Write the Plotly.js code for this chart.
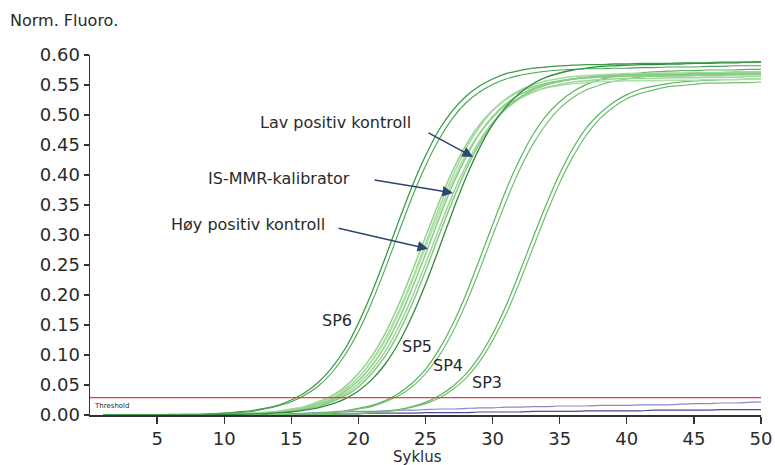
<!DOCTYPE html>
<html>
<head>
<meta charset="utf-8">
<script src="https://cdn.plot.ly/plotly-3.0.1.min.js"></script>
<style>html,body{margin:0;padding:0;background:#fff;}#chart{width:775px;height:465px;}</style>
</head>
<body>
<div id="chart"></div>
<script>
const cycles = [1,2,3,4,5,6,7,8,9,10,11,12,13,14,15,16,17,18,19,20,21,22,23,24,25,26,27,28,29,30,31,32,33,34,35,36,37,38,39,40,41,42,43,44,45,46,47,48,49,50];
const xRange = [0, 50];
const thresholdValue = [0.029];
const xTicks = [5,10,15,20,25,30,35,40,45,50];
const yTicks = [0,0.05,0.10,0.15,0.20,0.25,0.30,0.35,0.40,0.45,0.50,0.55,0.60];

const sp6a = [0.000,0.000,0.000,0.000,0.000,0.001,0.001,0.001,0.002,0.003,
 0.005,0.007,0.011,0.016,0.025,0.037,0.054,0.078,0.110,0.153,
 0.204,0.262,0.323,0.381,0.432,0.475,0.507,0.531,0.548,0.560,
 0.569,0.574,0.578,0.580,0.582,0.583,0.584,0.584,0.585,0.585,
 0.586,0.586,0.586,0.587,0.587,0.587,0.588,0.588,0.588,0.589];
const sp6b = [0.000,0.000,0.000,0.000,0.000,0.000,0.001,0.001,0.002,0.003,
 0.004,0.006,0.010,0.015,0.022,0.033,0.048,0.070,0.100,0.139,
 0.188,0.244,0.304,0.363,0.415,0.459,0.494,0.520,0.538,0.551,
 0.560,0.566,0.570,0.573,0.575,0.576,0.577,0.577,0.578,0.578,
 0.579,0.579,0.580,0.580,0.580,0.581,0.581,0.582,0.582,0.582];
const hoyA = [0,0,0,0,0,0,0,0,0.001,0.001,
 0.002,0.003,0.004,0.006,0.010,0.014,0.022,0.032,0.047,0.069,
 0.098,0.136,0.184,0.239,0.297,0.354,0.406,0.449,0.483,0.508,
 0.526,0.539,0.547,0.553,0.557,0.560,0.562,0.563,0.564,0.564,
 0.564,0.565,0.565,0.565,0.566,0.566,0.566,0.567,0.567,0.567];
const hoyB = [0,0,0,0,0,0,0,0,0.001,0.001,
 0.002,0.003,0.004,0.006,0.009,0.013,0.020,0.029,0.043,0.063,
 0.091,0.127,0.173,0.226,0.285,0.344,0.397,0.443,0.479,0.507,
 0.527,0.541,0.550,0.557,0.561,0.564,0.566,0.567,0.568,0.569,
 0.569,0.570,0.570,0.570,0.571,0.571,0.571,0.572,0.572,0.572];
const isA = [0,0,0,0,0,0,0,0,0.001,0.001,
 0.002,0.002,0.004,0.006,0.009,0.013,0.019,0.029,0.042,0.062,
 0.089,0.124,0.169,0.222,0.279,0.336,0.389,0.434,0.469,0.496,
 0.516,0.529,0.539,0.545,0.549,0.552,0.554,0.556,0.556,0.557,
 0.557,0.557,0.558,0.558,0.558,0.559,0.559,0.559,0.560,0.560];
const isB = [0,0,0,0,0,0,0,0,0.001,0.001,
 0.001,0.002,0.003,0.005,0.008,0.012,0.018,0.026,0.039,0.057,
 0.082,0.116,0.159,0.211,0.268,0.327,0.382,0.429,0.468,0.497,
 0.519,0.534,0.544,0.552,0.556,0.560,0.562,0.563,0.564,0.565,
 0.565,0.565,0.566,0.566,0.566,0.567,0.567,0.567,0.568,0.568];
const lavA = [0,0,0,0,0,0,0,0,0,0.001,
 0.001,0.002,0.003,0.005,0.007,0.011,0.016,0.024,0.035,0.052,
 0.075,0.106,0.147,0.196,0.252,0.310,0.366,0.415,0.456,0.487,
 0.510,0.527,0.538,0.546,0.551,0.555,0.557,0.559,0.560,0.561,
 0.561,0.561,0.562,0.562,0.562,0.563,0.563,0.563,0.564,0.564];
const lavB = [0,0,0,0,0,0,0,0,0,0.001,
 0.001,0.002,0.003,0.004,0.006,0.010,0.014,0.022,0.032,0.047,
 0.069,0.098,0.137,0.185,0.240,0.299,0.356,0.408,0.451,0.485,
 0.511,0.529,0.542,0.550,0.556,0.560,0.563,0.565,0.566,0.567,
 0.567,0.568,0.568,0.568,0.569,0.569,0.569,0.570,0.570,0.570];
const sp5 = [0,0,0,0,0,0,0,0,0,0.001,
 0.001,0.002,0.002,0.004,0.005,0.008,0.012,0.018,0.027,0.040,
 0.059,0.085,0.120,0.165,0.218,0.277,0.338,0.395,0.444,0.484,
 0.514,0.536,0.552,0.563,0.570,0.575,0.578,0.581,0.582,0.583,
 0.584,0.584,0.585,0.585,0.586,0.586,0.587,0.587,0.588,0.588];
const sp4a = [0,0,0,0,0,0,0,0,0,0,
 0,0,0.001,0.001,0.001,0.002,0.003,0.005,0.007,0.011,
 0.016,0.024,0.036,0.053,0.076,0.109,0.150,0.200,0.258,0.317,
 0.375,0.425,0.467,0.499,0.522,0.539,0.551,0.559,0.564,0.568,
 0.570,0.572,0.573,0.574,0.574,0.575,0.575,0.575,0.576,0.576];
const sp4b = [0,0,0,0,0,0,0,0,0,0,
 0,0,0.001,0.001,0.001,0.002,0.003,0.004,0.006,0.010,
 0.014,0.022,0.032,0.047,0.069,0.098,0.137,0.185,0.240,0.299,
 0.356,0.408,0.451,0.485,0.511,0.529,0.542,0.550,0.556,0.560,
 0.563,0.565,0.566,0.567,0.567,0.567,0.568,0.568,0.568,0.569];
const sp3a = [0,0,0,0,0,0,0,0,0,0,
 0,0,0,0,0,0.001,0.001,0.001,0.002,0.003,
 0.004,0.006,0.009,0.014,0.021,0.032,0.047,0.068,0.097,0.135,
 0.182,0.237,0.295,0.351,0.402,0.445,0.479,0.503,0.521,0.534,
 0.543,0.548,0.552,0.555,0.557,0.558,0.559,0.559,0.560,0.560];
const sp3b = [0,0,0,0,0,0,0,0,0,0,
 0,0,0,0,0,0,0.001,0.001,0.002,0.002,
 0.004,0.006,0.008,0.013,0.019,0.028,0.042,0.061,0.088,0.124,
 0.168,0.221,0.278,0.335,0.387,0.431,0.467,0.494,0.513,0.527,
 0.536,0.542,0.547,0.549,0.551,0.553,0.553,0.554,0.554,0.555];
const ntc1 = [0,0,0,0,0,0,0,0,0,0,
 0,0,0,0.001,0.002,0.003,0.004,0.005,0.005,0.006,
 0.006,0.007,0.008,0.008,0.009,0.010,0.010,0.011,0.012,0.012,
 0.013,0.013,0.014,0.014,0.015,0.015,0.015,0.016,0.016,0.016,
 0.017,0.017,0.017,0.018,0.019,0.019,0.020,0.020,0.021,0.022];
const ntc2 = [0,0,0,0,0,0,0,0,0,0,
 0,0,0,0,0.001,0.001,0.001,0.002,0.002,0.002,
 0.003,0.003,0.003,0.003,0.004,0.004,0.004,0.004,0.005,0.005,
 0.005,0.005,0.006,0.006,0.006,0.006,0.007,0.007,0.007,0.007,
 0.007,0.008,0.008,0.008,0.008,0.008,0.009,0.009,0.009,0.009];

const FONT = '"DejaVu Sans", "Noto Sans", sans-serif';
const TXT = '#2a2a2a';

function curve(y, color, width) {
  return {x: cycles, y: y, type: 'scatter', mode: 'lines',
    line: {color: color, width: width || 1.2, shape: 'spline', smoothing: 0.6},
    hoverinfo: 'skip'};
}

const traces = [
  curve(ntc2, '#4d4d95', 1.2),
  curve(ntc1, '#8a8ac6', 1.2),
  curve(sp3a, '#5db35e'), curve(sp3b, '#72be72'),
  curve(sp4a, '#5db35e'), curve(sp4b, '#72be72'),
  curve(hoyA, '#92d28c', 1.5), curve(hoyB, '#a4da9e', 1.5),
  curve(isA, '#aee0a8', 1.5), curve(isB, '#8ccc86', 1.5),
  curve(lavA, '#9dd697', 1.5), curve(lavB, '#86c980', 1.5),
  curve(sp5, '#2f8c3d', 1.3),
  curve(sp6a, '#3a9a46', 1.3), curve(sp6b, '#4aa554', 1.1),
  {x: xRange, y: [thresholdValue[0], thresholdValue[0]], type: 'scatter', mode: 'lines',
   line: {color: '#f23a3a', width: 1.4}, hoverinfo: 'skip'}
];

const annotations = [
  {xref: 'paper', yref: 'paper', x: -0.122, y: 1.097, xanchor: 'left', yanchor: 'middle',
   text: 'Norm. Fluoro.', showarrow: false, font: {family: FONT, size: 16, color: TXT}},
  {xref: 'paper', yref: 'paper', x: 0.488, y: -0.1167, xanchor: 'center', yanchor: 'middle',
   text: 'Syklus', showarrow: false, font: {family: FONT, size: 15, color: TXT}},
  {x: 0.15, y: thresholdValue[0], xanchor: 'left', yanchor: 'top', yshift: -2,
   text: 'Threshold', showarrow: false, font: {family: FONT, size: 7, color: TXT}},
  {x: 24.07, y: 0.487, xanchor: 'right', yanchor: 'middle', text: 'Lav positiv kontroll',
   showarrow: false, font: {family: FONT, size: 16, color: TXT}},
  {x: 19.52, y: 0.395, xanchor: 'right', yanchor: 'middle', text: 'IS-MMR-kalibrator',
   showarrow: false, font: {family: FONT, size: 16, color: TXT}},
  {x: 17.66, y: 0.317, xanchor: 'right', yanchor: 'middle', text: 'Høy positiv kontroll',
   showarrow: false, font: {family: FONT, size: 16, color: TXT}},
  {x: 28.54, y: 0.430, ax: 25.11, ay: 0.4717, axref: 'x', ayref: 'y', text: '', showarrow: true,
   arrowhead: 2, arrowsize: 1.4, arrowwidth: 1.5, arrowcolor: '#2c4670'},
  {x: 27.05, y: 0.370, ax: 21.09, ay: 0.392, axref: 'x', ayref: 'y', text: '', showarrow: true,
   arrowhead: 2, arrowsize: 1.4, arrowwidth: 1.5, arrowcolor: '#2c4670'},
  {x: 25.19, y: 0.277, ax: 18.41, ay: 0.312, axref: 'x', ayref: 'y', text: '', showarrow: true,
   arrowhead: 2, arrowsize: 1.4, arrowwidth: 1.5, arrowcolor: '#2c4670'},
  {x: 18.4, y: 0.157, text: 'SP6', showarrow: false, font: {family: FONT, size: 16, color: TXT}},
  {x: 24.37, y: 0.114, text: 'SP5', showarrow: false, font: {family: FONT, size: 16, color: TXT}},
  {x: 26.68, y: 0.0817, text: 'SP4', showarrow: false, font: {family: FONT, size: 16, color: TXT}},
  {x: 29.55, y: 0.054, text: 'SP3', showarrow: false, font: {family: FONT, size: 16, color: TXT}}
];

const layout = {
  width: 775, height: 465,
  margin: {l: 90, r: 14, t: 55, b: 50, pad: 0},
  paper_bgcolor: '#ffffff', plot_bgcolor: '#ffffff',
  showlegend: false, hovermode: false,
  xaxis: {range: xRange, tickvals: xTicks, ticks: 'outside', ticklen: 7, tickwidth: 1.4,
    tickcolor: '#333', showline: true, linecolor: '#333', linewidth: 1.5, showgrid: false,
    zeroline: false, tickfont: {family: FONT, size: 18, color: TXT}, fixedrange: true},
  yaxis: {range: [0, 0.6], tickvals: yTicks, tickformat: '.2f', ticks: 'outside', ticklen: 5,
    tickwidth: 1.4, tickcolor: '#333', showline: true, linecolor: '#333', linewidth: 1.5,
    showgrid: false, zeroline: false, tickfont: {family: FONT, size: 18, color: TXT}, fixedrange: true},
  annotations: annotations
};

Plotly.newPlot('chart', traces, layout, {displayModeBar: false, staticPlot: true});
</script>
</body>
</html>
